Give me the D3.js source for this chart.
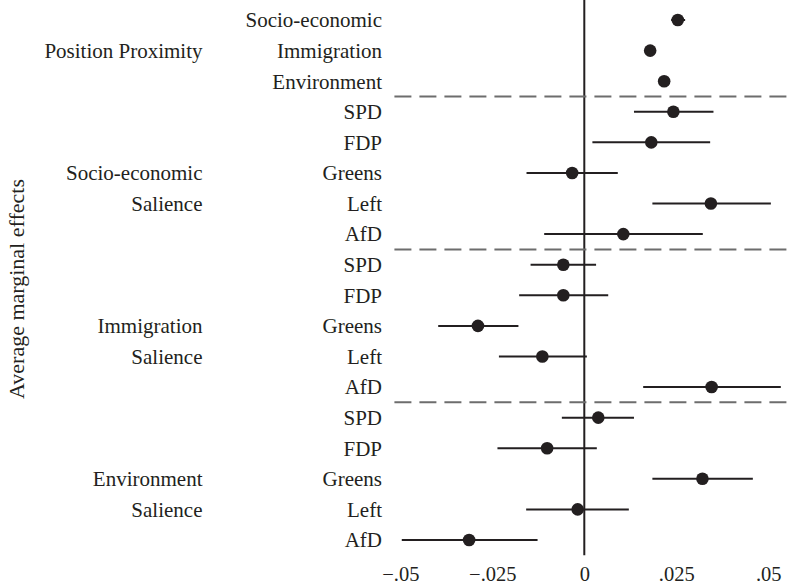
<!DOCTYPE html>
<html>
<head>
<meta charset="utf-8">
<script src="https://cdn.jsdelivr.net/npm/d3@7"></script>
<style>
  html, body { margin: 0; padding: 0; background: #fff; }
  svg { display: block; }
  text { font-family: "Liberation Serif", "DejaVu Serif", serif; fill: #231f20; }
</style>
</head>
<body>
<svg id="chart" width="787" height="585"></svg>
<script>
// Row labels (top to bottom)
const rowLabels = ["Socio-economic", "Immigration", "Environment",
  "SPD", "FDP", "Greens", "Left", "AfD",
  "SPD", "FDP", "Greens", "Left", "AfD",
  "SPD", "FDP", "Greens", "Left", "AfD"];
// Group labels: [row index, text]
const groupLabelRows = [1, 5, 6, 10, 11, 15, 16];
const groupLabelTexts = ["Position Proximity", "Socio-economic", "Salience",
  "Immigration", "Salience", "Environment", "Salience"];
// Group separators: after these row indices
const separatorsAfter = [2, 7, 12];
// Estimates and 95% CI bounds
const estimates = [0.0254, 0.0179, 0.0217,
  0.0242, 0.0182, -0.0033, 0.0344, 0.0106,
  -0.0057, -0.0057, -0.0289, -0.0114, 0.0346,
  0.0038, -0.0101, 0.0321, -0.0018, -0.0313];
const lower = [0.0236, 0.0168, 0.0206,
  0.0135, 0.0022, -0.0157, 0.0185, -0.0109,
  -0.0146, -0.0177, -0.0397, -0.0232, 0.0160,
  -0.0061, -0.0236, 0.0185, -0.0158, -0.0496];
const upper = [0.0274, 0.0190, 0.0228,
  0.0351, 0.0342, 0.0091, 0.0507, 0.0322,
  0.0032, 0.0065, -0.0179, 0.0007, 0.0534,
  0.0135, 0.0034, 0.0458, 0.0121, -0.0127];
const tickValues = [-0.05, -0.025, 0, 0.025, 0.05];
const yTitle = "Average marginal effects";

const svg = d3.select("#chart");
const x = d3.scaleLinear().domain([-0.05, 0.05]).range([400.3, 768.3]);
const idx = d3.range(rowLabels.length);
const y = d3.scalePoint().domain(idx).range([20, 540]);
const step = y.step();
const dark = "#231f20";

// zero reference line
svg.append("line")
  .attr("x1", x(0)).attr("x2", x(0))
  .attr("y1", y(0) - step / 2 - 9).attr("y2", y(idx.length - 1) + step / 2 + 0)
  .attr("stroke", dark).attr("stroke-width", 2);

// dashed separators
svg.selectAll("line.sep").data(separatorsAfter).enter().append("line")
  .attr("class", "sep")
  .attr("x1", x(-0.0516)).attr("x2", 787)
  .attr("y1", d => (y(d) + y(d + 1)) / 2).attr("y2", d => (y(d) + y(d + 1)) / 2)
  .attr("stroke", "#6d6d6d").attr("stroke-width", 2)
  .attr("stroke-dasharray", "17,8");

// CI lines
svg.selectAll("line.ci").data(idx).enter().append("line")
  .attr("class", "ci")
  .attr("x1", i => x(lower[i])).attr("x2", i => x(upper[i]))
  .attr("y1", i => y(i)).attr("y2", i => y(i))
  .attr("stroke", dark).attr("stroke-width", 2);

// points
svg.selectAll("circle.pt").data(idx).enter().append("circle")
  .attr("class", "pt")
  .attr("cx", i => x(estimates[i])).attr("cy", i => y(i))
  .attr("r", 6.3).attr("fill", dark);

// row labels
svg.selectAll("text.row").data(idx).enter().append("text")
  .attr("class", "row")
  .attr("x", 382).attr("y", i => y(i))
  .attr("dy", "0.35em")
  .attr("text-anchor", "end")
  .style("font-size", "21px")
  .text(i => rowLabels[i]);

// group labels
svg.selectAll("text.grp").data(groupLabelRows).enter().append("text")
  .attr("class", "grp")
  .attr("x", 202.5).attr("y", d => y(d))
  .attr("dy", "0.35em")
  .attr("text-anchor", "end")
  .style("font-size", "21px")
  .text((d, k) => groupLabelTexts[k]);

// x axis (labels only)
const fmt = d => d === 0 ? "0" : (d < 0 ? "\u2212" : "") + d3.format(".3~f")(Math.abs(d)).replace(/^0/, "");
const ax = svg.append("g")
  .attr("transform", "translate(0,560)")
  .call(d3.axisBottom(x).tickValues(tickValues).tickFormat(fmt).tickSize(0).tickPadding(6));
ax.select(".domain").remove();
ax.selectAll("text")
  .style("font-family", "'Liberation Serif', 'DejaVu Serif', serif")
  .style("font-size", "20.5px").attr("fill", dark);

// y title
svg.append("text")
  .attr("transform", "translate(24,289) rotate(-90)")
  .attr("text-anchor", "middle")
  .style("font-size", "22px")
  .text(yTitle);
</script>
</body>
</html>
